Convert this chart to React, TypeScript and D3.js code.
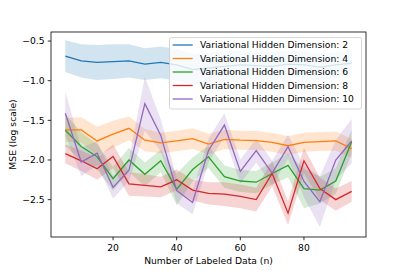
import * as d3 from 'd3'

const labeled = [5, 10, 15, 20, 25, 30, 35, 40, 45, 50, 55, 60, 65, 70, 75, 80, 85, 90, 95]

const dim2Mean = [-0.69, -0.75, -0.77, -0.76, -0.75, -0.79, -0.77, -0.8, -0.86, -0.84, -0.82, -0.8, -0.81, -0.82, -0.79, -0.8, -0.83, -0.8, -0.78]
const dim2Std = [0.2, 0.21, 0.22, 0.22, 0.21, 0.2, 0.2, 0.2, 0.2, 0.19, 0.19, 0.18, 0.18, 0.18, 0.17, 0.17, 0.17, 0.16, 0.16]

const dim4Mean = [-1.62, -1.62, -1.76, -1.675, -1.6, -1.75, -1.785, -1.76, -1.73, -1.8, -1.74, -1.75, -1.755, -1.777, -1.82, -1.777, -1.768, -1.76, -1.856]
const dim4Std = [0.15, 0.16, 0.18, 0.17, 0.15, 0.14, 0.13, 0.13, 0.13, 0.13, 0.12, 0.12, 0.12, 0.12, 0.12, 0.12, 0.12, 0.12, 0.12]

const dim6Mean = [-1.625, -1.83, -1.96, -2.235, -2.0, -2.18, -2.01, -2.37, -2.12, -1.96, -2.21, -2.265, -2.28, -2.17, -2.067, -2.36, -2.38, -2.265, -1.77]
const dim6Std = [0.2, 0.18, 0.16, 0.15, 0.15, 0.15, 0.14, 0.2, 0.15, 0.14, 0.14, 0.14, 0.14, 0.14, 0.15, 0.25, 0.17, 0.16, 0.15]

const dim8Mean = [-1.92, -2.01, -2.11, -1.955, -2.3, -2.32, -2.34, -2.25, -2.38, -2.42, -2.43, -2.46, -2.5, -2.17, -2.67, -2.01, -2.36, -2.5, -2.395]
const dim8Std = [0.12, 0.13, 0.14, 0.15, 0.15, 0.14, 0.13, 0.13, 0.13, 0.14, 0.15, 0.15, 0.15, 0.16, 0.15, 0.16, 0.14, 0.14, 0.13]

const dim10Mean = [-1.41, -2.025, -1.915, -2.345, -2.13, -1.29, -1.69, -2.385, -2.535, -1.88, -1.56, -2.145, -1.883, -2.165, -1.833, -2.27, -2.525, -2.0, -1.76]
const dim10Std = [0.27, 0.18, 0.15, 0.14, 0.14, 0.34, 0.2, 0.16, 0.15, 0.15, 0.15, 0.15, 0.15, 0.16, 0.15, 0.2, 0.32, 0.25, 0.28]

const seriesLabels = [
  'Variational Hidden Dimension: 2',
  'Variational Hidden Dimension: 4',
  'Variational Hidden Dimension: 6',
  'Variational Hidden Dimension: 8',
  'Variational Hidden Dimension: 10',
]
const colors = ['#1f77b4', '#ff7f0e', '#2ca02c', '#d62728', '#9467bd']

const xTicks = [20, 40, 60, 80]
const yTicks = [-0.5, -1.0, -1.5, -2.0, -2.5]

export default function App() {
  const width = 407
  const height = 271
  const plot = { left: 51, right: 366, top: 32, bottom: 237 }

  const x = d3.scaleLinear().domain([0.5, 99.5]).range([plot.left, plot.right])
  const y = d3.scaleLinear().domain([-2.971, -0.386]).range([plot.bottom, plot.top])

  const series = [
    { mean: dim2Mean, std: dim2Std },
    { mean: dim4Mean, std: dim4Std },
    { mean: dim6Mean, std: dim6Std },
    { mean: dim8Mean, std: dim8Std },
    { mean: dim10Mean, std: dim10Std },
  ]

  const area = d3
    .area<number>()
    .x((_, i) => x(labeled[i]))
  const line = d3.line<number>().x((_, i) => x(labeled[i])).y(d => y(d))

  const fmt = (v: number) => (v < 0 ? '\u2212' : '') + Math.abs(v).toFixed(1)
  const font = 'DejaVu Sans, sans-serif'

  // legend layout
  const lg = { x: 169.5, y: 37.5, w: 192, h: 71.5 }

  return (
    <svg
      width={width}
      height={height}
      style={{ position: 'absolute', left: 0, top: 0, background: '#fff' }}
      fontFamily={font}
    >
      <defs>
        <clipPath id="plot-clip">
          <rect x={plot.left} y={plot.top} width={plot.right - plot.left} height={plot.bottom - plot.top} />
        </clipPath>
      </defs>

      <g clipPath="url(#plot-clip)">
        {series.map((s, k) => (
          <path
            key={'band' + k}
            d={area
              .y0((d, i) => y(d - s.std[i]))
              .y1((d, i) => y(d + s.std[i]))(s.mean) || ''}
            fill={colors[k]}
            fillOpacity={0.2}
          />
        ))}
        {series.map((s, k) => (
          <path key={'line' + k} d={line(s.mean) || ''} fill="none" stroke={colors[k]} strokeWidth={1.3} />
        ))}
      </g>

      {/* spines */}
      <rect
        x={plot.left}
        y={plot.top}
        width={plot.right - plot.left}
        height={plot.bottom - plot.top}
        fill="none"
        stroke="#000"
        strokeWidth={0.8}
      />

      {/* x ticks */}
      {xTicks.map(t => (
        <g key={'x' + t}>
          <line x1={x(t)} x2={x(t)} y1={plot.bottom} y2={plot.bottom + 3.3} stroke="#000" strokeWidth={0.8} />
          <text x={x(t)} y={plot.bottom + 14} textAnchor="middle" fontSize={9.2} fill="#000">
            {t}
          </text>
        </g>
      ))}

      {/* y ticks */}
      {yTicks.map(t => (
        <g key={'y' + t}>
          <line x1={plot.left - 3.3} x2={plot.left} y1={y(t)} y2={y(t)} stroke="#000" strokeWidth={0.8} />
          <text x={plot.left - 6.5} y={y(t)} dy="0.35em" textAnchor="end" fontSize={9.2} fill="#000">
            {fmt(t)}
          </text>
        </g>
      ))}

      <text x={(plot.left + plot.right) / 2} y={263.5} textAnchor="middle" fontSize={9.2} fill="#000">
        Number of Labeled Data (n)
      </text>
      <text
        transform={`translate(15.5, ${(plot.top + plot.bottom) / 2}) rotate(-90)`}
        textAnchor="middle"
        fontSize={9.2}
        fill="#000"
      >
        MSE (log scale)
      </text>

      {/* legend */}
      <rect
        x={lg.x}
        y={lg.y}
        width={lg.w}
        height={lg.h}
        rx={2}
        fill="#fff"
        fillOpacity={0.8}
        stroke="#cccccc"
        strokeWidth={0.8}
      />
      {seriesLabels.map((label, i) => {
        const cy = 45 + i * 13.5
        return (
          <g key={label}>
            <line x1={172.7} x2={192.7} y1={cy} y2={cy} stroke={colors[i]} strokeWidth={1.3} />
            <text x={200} y={cy} dy="0.35em" fontSize={9.2} fill="#000">
              {label}
            </text>
          </g>
        )
      })}
    </svg>
  )
}
